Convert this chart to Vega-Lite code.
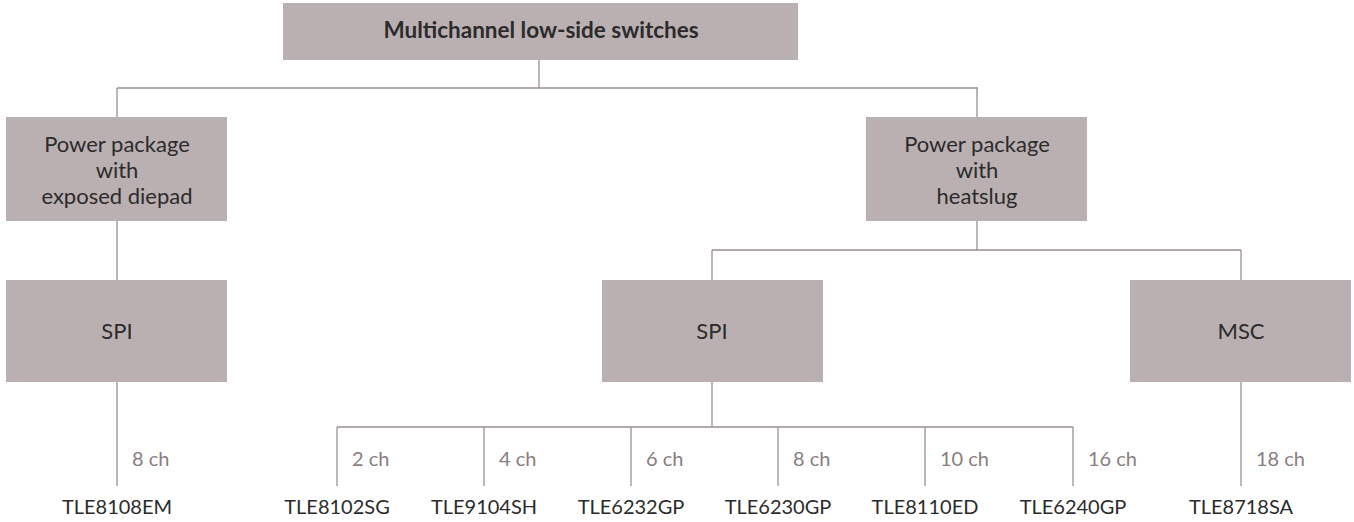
{
  "$schema": "https://vega.github.io/schema/vega-lite/v6.json",
  "width": 1354,
  "height": 522,
  "autosize": {"type": "fit", "contains": "padding"},
  "padding": 0,
  "background": "white",
  "config": {"view": {"stroke": null}, "font": "Lato"},
  "datasets": {
    "edges": [
      {"x": 539, "y": 60, "x2": 539, "y2": 88},
      {"x": 117, "y": 88, "x2": 978, "y2": 88},
      {"x": 117, "y": 88, "x2": 117, "y2": 117},
      {"x": 977, "y": 88, "x2": 977, "y2": 117},
      {"x": 117, "y": 221, "x2": 117, "y2": 280},
      {"x": 977, "y": 221, "x2": 977, "y2": 250},
      {"x": 712, "y": 250, "x2": 1241, "y2": 250},
      {"x": 712, "y": 250, "x2": 712, "y2": 280},
      {"x": 1241, "y": 250, "x2": 1241, "y2": 280},
      {"x": 117, "y": 382, "x2": 117, "y2": 486},
      {"x": 712, "y": 382, "x2": 712, "y2": 427},
      {"x": 337, "y": 427, "x2": 1073, "y2": 427},
      {"x": 337, "y": 427, "x2": 337, "y2": 486},
      {"x": 484, "y": 427, "x2": 484, "y2": 486},
      {"x": 631, "y": 427, "x2": 631, "y2": 486},
      {"x": 778, "y": 427, "x2": 778, "y2": 486},
      {"x": 925, "y": 427, "x2": 925, "y2": 486},
      {"x": 1073, "y": 427, "x2": 1073, "y2": 486},
      {"x": 1241, "y": 382, "x2": 1241, "y2": 486}
    ],
    "boxes": [
      {"label": "Multichannel low-side switches", "level": 0, "x1": 283, "x2": 798, "y1": 3, "y2": 60, "cx": 541, "cy": 31},
      {"label": "Power package\nwith\nexposed diepad", "level": 1, "x1": 6, "x2": 227, "y1": 117, "y2": 221, "cx": 117, "cy": 145},
      {"label": "Power package\nwith\nheatslug", "level": 1, "x1": 866, "x2": 1087, "y1": 117, "y2": 221, "cx": 977, "cy": 145},
      {"label": "SPI", "level": 2, "x1": 6, "x2": 227, "y1": 280, "y2": 382, "cx": 117, "cy": 332},
      {"label": "SPI", "level": 2, "x1": 602, "x2": 823, "y1": 280, "y2": 382, "cx": 712, "cy": 332},
      {"label": "MSC", "level": 2, "x1": 1130, "x2": 1351, "y1": 280, "y2": 382, "cx": 1241, "cy": 332}
    ],
    "leaves": [
      {"name": "TLE8108EM", "ch": "8 ch", "x": 117},
      {"name": "TLE8102SG", "ch": "2 ch", "x": 337},
      {"name": "TLE9104SH", "ch": "4 ch", "x": 484},
      {"name": "TLE6232GP", "ch": "6 ch", "x": 631},
      {"name": "TLE6230GP", "ch": "8 ch", "x": 778},
      {"name": "TLE8110ED", "ch": "10 ch", "x": 925},
      {"name": "TLE6240GP", "ch": "16 ch", "x": 1073},
      {"name": "TLE8718SA", "ch": "18 ch", "x": 1241}
    ]
  },
  "layer": [
    {
      "data": {"name": "edges"},
      "mark": {"type": "rule", "color": "#9a8e91", "strokeWidth": 1.3},
      "encoding": {
        "x": {"field": "x", "type": "quantitative", "scale": {"domain": [0, 1354], "nice": false, "zero": false}, "axis": null},
        "y": {"field": "y", "type": "quantitative", "scale": {"domain": [0, 522], "reverse": true, "nice": false, "zero": false}, "axis": null},
        "x2": {"field": "x2"},
        "y2": {"field": "y2"}
      }
    },
    {
      "data": {"name": "boxes"},
      "mark": {"type": "rect", "color": "#bab0b1"},
      "encoding": {
        "x": {"field": "x1", "type": "quantitative"},
        "x2": {"field": "x2"},
        "y": {"field": "y1", "type": "quantitative"},
        "y2": {"field": "y2"}
      }
    },
    {
      "data": {"name": "boxes"},
      "transform": [{"filter": "datum.level == 0"}],
      "mark": {"type": "text", "fontSize": 22.5, "fontWeight": "bold", "color": "#2b2b2b", "align": "center", "baseline": "middle"},
      "encoding": {
        "x": {"field": "cx", "type": "quantitative"},
        "y": {"field": "cy", "type": "quantitative"},
        "text": {"field": "label"}
      }
    },
    {
      "data": {"name": "boxes"},
      "transform": [{"filter": "datum.level > 0"}],
      "mark": {"type": "text", "fontSize": 22, "color": "#2b2b2b", "align": "center", "baseline": "middle", "lineBreak": "\n", "lineHeight": 26},
      "encoding": {
        "x": {"field": "cx", "type": "quantitative"},
        "y": {"field": "cy", "type": "quantitative"},
        "text": {"field": "label"}
      }
    },
    {
      "data": {"name": "leaves"},
      "mark": {"type": "text", "fontSize": 20, "color": "#8a7d80", "align": "left", "baseline": "middle", "dx": 15},
      "encoding": {
        "x": {"field": "x", "type": "quantitative"},
        "y": {"datum": 460, "type": "quantitative"},
        "text": {"field": "ch"}
      }
    },
    {
      "data": {"name": "leaves"},
      "mark": {"type": "text", "fontSize": 20, "color": "#2b2b2b", "align": "center", "baseline": "middle"},
      "encoding": {
        "x": {"field": "x", "type": "quantitative"},
        "y": {"datum": 508, "type": "quantitative"},
        "text": {"field": "name"}
      }
    }
  ]
}
